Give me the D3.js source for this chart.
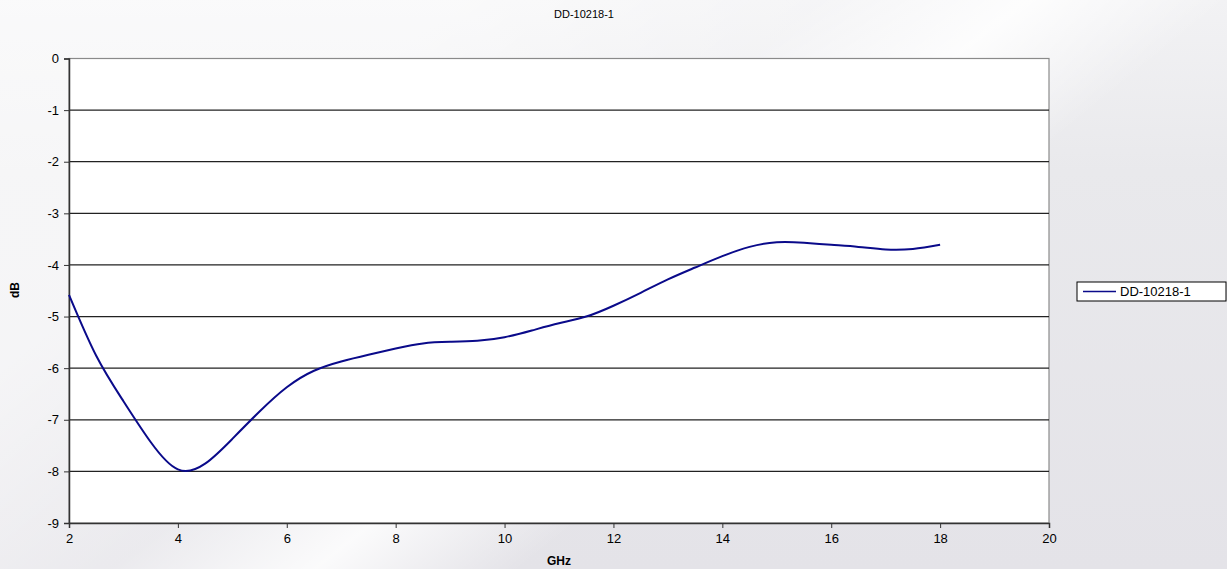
<!DOCTYPE html>
<html lang="en">
	<head>
		<meta charset="utf-8">
		<title>DD-10218-1</title>
		<style type="text/css">
			body {
				margin: 0;
				overflow: hidden;
				font-family: "Liberation Sans", Arial, sans-serif;
			}
			.axis text {
				font-size: 13px;
				fill: #000;
				font-family: "Liberation Sans", Arial, sans-serif;
			}
		</style>
		<script type="text/javascript" src="https://cdn.jsdelivr.net/npm/d3@7"></script>
	</head>
	<body>
		<script type="text/javascript">
			//Chart data
			var seriesName = "DD-10218-1";
			var freq = [2, 2.5, 3, 3.5, 4, 4.5, 5, 5.5, 6, 6.5, 7, 7.5, 8, 8.5, 9, 9.5, 10,
						10.5, 11, 11.5, 12, 12.5, 13, 13.5, 14, 14.5, 15, 15.5, 16, 16.5, 17, 17.5, 18];
			var loss = [-4.58, -5.76, -6.64, -7.43, -7.96, -7.85, -7.37, -6.84, -6.37, -6.05, -5.87, -5.74, -5.62, -5.52, -5.49, -5.47, -5.40,
						-5.27, -5.13, -5.0, -4.79, -4.54, -4.28, -4.05, -3.83, -3.65, -3.56, -3.57, -3.61, -3.65, -3.70, -3.69, -3.61];
			var xTicks = [2, 4, 6, 8, 10, 12, 14, 16, 18, 20];
			var yTicks = [0, -1, -2, -3, -4, -5, -6, -7, -8, -9];

			//Width and height
			var w = 1227;
			var h = 569;
			var plot = { left: 69, right: 1049, top: 58.5, bottom: 523 };

			var svg = d3.select("body")
						.append("svg")
						.attr("width", w)
						.attr("height", h);

			//Background: grey, lighter at the top with diagonal streaks
			var defs = svg.append("defs");
			var bg = defs.append("linearGradient")
						.attr("id", "bg")
						.attr("x1", 0).attr("y1", 0)
						.attr("x2", 0).attr("y2", 1);
			bg.append("stop").attr("offset", "0%").attr("stop-color", "#f2f2f4");
			bg.append("stop").attr("offset", "30%").attr("stop-color", "#e9e9ec");
			bg.append("stop").attr("offset", "100%").attr("stop-color", "#e4e3e8");
			var band = defs.append("linearGradient")
						.attr("id", "band")
						.attr("gradientUnits", "userSpaceOnUse")
						.attr("x1", 650).attr("y1", -150)
						.attr("x2", 1050).attr("y2", 350);
			band.append("stop").attr("offset", "0%").attr("stop-color", "#fff").attr("stop-opacity", 0.6);
			band.append("stop").attr("offset", "35%").attr("stop-color", "#fff").attr("stop-opacity", 0.25);
			band.append("stop").attr("offset", "55%").attr("stop-color", "#fff").attr("stop-opacity", 0.85);
			band.append("stop").attr("offset", "75%").attr("stop-color", "#fff").attr("stop-opacity", 0);
			band.append("stop").attr("offset", "100%").attr("stop-color", "#fff").attr("stop-opacity", 0);

			svg.append("rect").attr("width", w).attr("height", h).attr("fill", "url(#bg)");
			svg.append("rect").attr("width", w).attr("height", h).attr("fill", "url(#band)");

			//Scales
			var xScale = d3.scaleLinear().domain([2, 20]).range([plot.left, plot.right]);
			var yScale = d3.scaleLinear().domain([-9, 0]).range([plot.bottom, plot.top]);

			//Plot area
			svg.append("rect")
				.attr("x", plot.left)
				.attr("y", plot.top)
				.attr("width", plot.right - plot.left)
				.attr("height", plot.bottom - plot.top)
				.attr("fill", "#fff")
				.attr("stroke", "#8a8a8a")
				.attr("stroke-width", 1.2);

			//Gridlines
			svg.append("g")
				.selectAll("line")
				.data(yTicks.filter(function(d) { return d !== 0 && d !== -9; }))
				.enter()
				.append("line")
				.attr("x1", plot.left)
				.attr("x2", plot.right)
				.attr("y1", function(d) { return yScale(d); })
				.attr("y2", function(d) { return yScale(d); })
				.attr("stroke", "#222")
				.attr("stroke-width", 1.2);

			//Axes (plain hyphen minus like the original)
			var plain = function(d) { return String(d); };
			var xAxis = d3.axisBottom(xScale).tickValues(xTicks).tickFormat(plain).tickSize(5).tickPadding(6);
			var yAxis = d3.axisLeft(yScale).tickValues(yTicks).tickFormat(plain).tickSize(5).tickPadding(5);

			var gx = svg.append("g")
				.attr("class", "axis")
				.attr("transform", "translate(0," + plot.bottom + ")")
				.call(xAxis);
			var gy = svg.append("g")
				.attr("class", "axis")
				.attr("transform", "translate(" + plot.left + ",0)")
				.call(yAxis);
			[gx, gy].forEach(function(g) {
				g.select(".domain").attr("stroke", "#333").attr("stroke-width", 1.5);
				g.selectAll(".tick line").attr("stroke", "#333");
			});

			//Line
			var line = d3.line()
						.x(function(d, i) { return xScale(freq[i]); })
						.y(function(d) { return yScale(d); })
						.curve(d3.curveNatural);
			svg.append("path")
				.datum(loss)
				.attr("d", line)
				.attr("fill", "none")
				.attr("stroke", "#0a0a8a")
				.attr("stroke-width", 2);

			//Title and axis labels
			svg.append("text")
				.attr("x", 584)
				.attr("y", 18)
				.attr("text-anchor", "middle")
				.style("font-size", "11px")
				.text(seriesName);
			svg.append("text")
				.attr("x", 559)
				.attr("y", 565)
				.attr("text-anchor", "middle")
				.style("font-size", "12px")
				.style("font-weight", "bold")
				.text("GHz");
			svg.append("text")
				.attr("transform", "translate(19,290) rotate(-90)")
				.attr("text-anchor", "middle")
				.style("font-size", "12px")
				.style("font-weight", "bold")
				.text("dB");

			//Legend
			var legend = svg.append("g").attr("transform", "translate(1077,282)");
			legend.append("rect")
				.attr("width", 149)
				.attr("height", 19)
				.attr("fill", "#fff")
				.attr("stroke", "#000");
			legend.append("line")
				.attr("x1", 6).attr("x2", 39)
				.attr("y1", 9.5).attr("y2", 9.5)
				.attr("stroke", "#0a0a8a")
				.attr("stroke-width", 1.5);
			legend.append("text")
				.attr("x", 43)
				.attr("y", 14)
				.style("font-size", "13px")
				.text(seriesName);
		</script>
	</body>
</html>
